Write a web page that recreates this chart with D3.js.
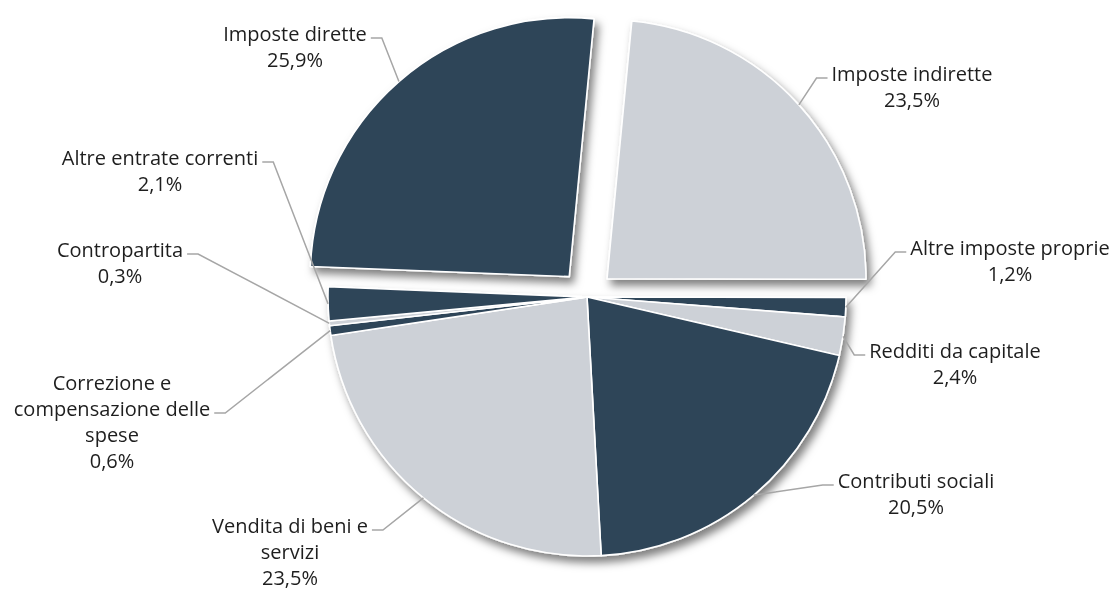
<!DOCTYPE html>
<html>
<head>
<meta charset="utf-8">
<script src="https://cdn.jsdelivr.net/npm/d3@7"></script>
<style>
  html, body { margin: 0; padding: 0; background: #ffffff; }
  svg { display: block; }
</style>
</head>
<body>
<svg id="chart" width="1114" height="592"></svg>
<script>
// ---- data ----
const categories = [
  "Imposte indirette",
  "Altre imposte proprie",
  "Redditi da capitale",
  "Contributi sociali",
  "Vendita di beni e servizi",
  "Correzione e compensazione delle spese",
  "Contropartita",
  "Altre entrate correnti",
  "Imposte dirette"
];
const values = [23.5, 1.2, 2.4, 20.5, 23.5, 0.6, 0.3, 2.1, 25.9];
const valueLabels = ["23,5%", "1,2%", "2,4%", "20,5%", "23,5%", "0,6%", "0,3%", "2,1%", "25,9%"];
const exploded = [true, false, false, false, false, false, false, false, true];

// ---- layout / style ----
const labelLines = [
  ["Imposte indirette"],
  ["Altre imposte proprie"],
  ["Redditi da capitale"],
  ["Contributi sociali"],
  ["Vendita di beni e", "servizi"],
  ["Correzione e", "compensazione delle", "spese"],
  ["Contropartita"],
  ["Altre entrate correnti"],
  ["Imposte dirette"]
];
// label centre x, first baseline y, side of the pie, line used for the leader
const labelLayout = [
  {x: 912,  y: 81,  side: "right", row: 0},
  {x: 1010, y: 255, side: "right", row: 0},
  {x: 955,  y: 358, side: "right", row: 0},
  {x: 916,  y: 488, side: "right", row: 0},
  {x: 290,  y: 533, side: "left",  row: 0},
  {x: 112,  y: 390, side: "left",  row: 1},
  {x: 120,  y: 257, side: "left",  row: 0},
  {x: 160,  y: 165, side: "left",  row: 0},
  {x: 295,  y: 41,  side: "left",  row: 0}
];
const darkColor = "#2f4559";
const lightColor = "#cdd1d7";
const colors = [lightColor, darkColor, lightColor, darkColor, lightColor, darkColor, lightColor, darkColor, darkColor];
const cx = 587, cy = 297, radius = 259, explodeDist = 27;
const lineHeight = 26;
const startDeg = 5.5;

const svg = d3.select("#chart");
const defs = svg.append("defs");
const filter = defs.append("filter").attr("id", "shadow")
  .attr("x", "-10%").attr("y", "-10%").attr("width", "130%").attr("height", "130%");
filter.append("feDropShadow")
  .attr("dx", 4).attr("dy", 6).attr("stdDeviation", 4.5)
  .attr("flood-color", "#000").attr("flood-opacity", 0.5);

const start = startDeg * Math.PI / 180;
const pie = d3.pie().sort(null).value(d => d).startAngle(start).endAngle(start + 2 * Math.PI);
const arcs = pie(values);
const arc = d3.arc().innerRadius(0).outerRadius(radius);

function offsetOf(i) {
  if (!exploded[i]) return [0, 0];
  const a = (arcs[i].startAngle + arcs[i].endAngle) / 2;
  return [Math.sin(a) * explodeDist, -Math.cos(a) * explodeDist];
}

const g = svg.append("g").attr("transform", `translate(${cx},${cy})`).attr("filter", "url(#shadow)");
g.selectAll("path.slice")
  .data(arcs)
  .enter().append("path")
  .attr("class", "slice")
  .attr("d", arc)
  .attr("transform", (d, i) => { const o = offsetOf(i); return `translate(${o[0]},${o[1]})`; })
  .attr("fill", (d, i) => colors[i])
  .attr("stroke", "#ffffff")
  .attr("stroke-width", 1.6)
  .attr("stroke-linejoin", "round");

// labels
const labelG = svg.append("g");
const leaderG = svg.append("g");
arcs.forEach((d, i) => {
  const L = labelLayout[i];
  const lines = labelLines[i].concat([valueLabels[i]]);
  const t = labelG.append("text")
    .attr("text-anchor", "middle")
    .attr("font-family", "'Open Sans', 'Noto Sans', sans-serif")
    .attr("font-size", 20)
    .attr("fill", "#1e1e1e");
  lines.forEach((ln, k) => {
    t.append("tspan").attr("x", L.x).attr("y", L.y + k * lineHeight).text(ln);
  });
  const bb = t.node().getBBox();
  const ly = L.y + L.row * lineHeight - 3;
  const x0 = L.side === "left" ? bb.x + bb.width + 4 : bb.x - 4;
  const x1 = L.side === "left" ? x0 + 11 : x0 - 11;
  const a = (d.startAngle + d.endAngle) / 2;
  const o = offsetOf(i);
  const px = cx + o[0] + Math.sin(a) * radius;
  const py = cy + o[1] - Math.cos(a) * radius;
  leaderG.append("polyline")
    .attr("points", `${x0},${ly} ${x1},${ly} ${px},${py}`)
    .attr("fill", "none")
    .attr("stroke", "#a6a6a6")
    .attr("stroke-width", 1.5);
});
</script>
</body>
</html>
